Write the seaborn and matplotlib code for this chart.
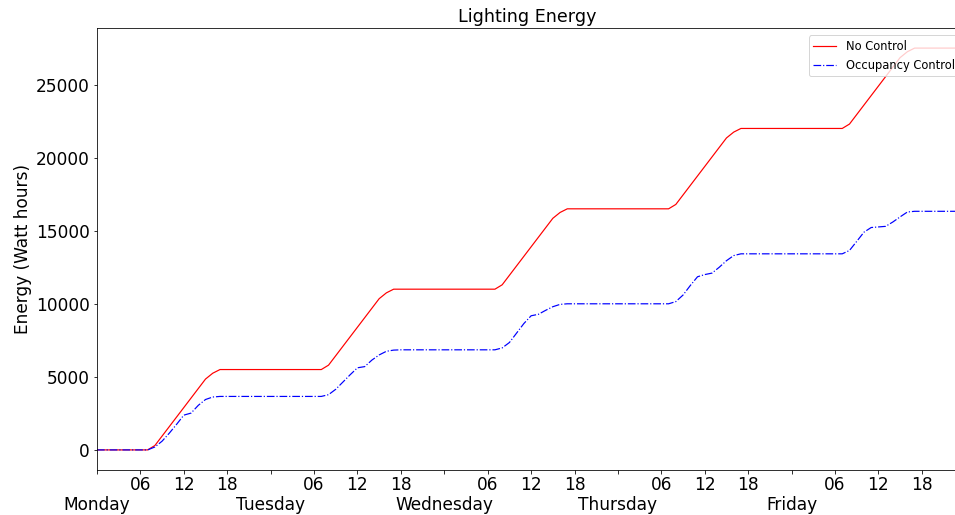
import matplotlib
matplotlib.use("Agg")
import matplotlib.pyplot as plt
import numpy as np
import pandas as pd
import seaborn as sns

# Hour of the week (Monday 00:00 = 0), hourly samples Monday..Friday
hours = list(range(120))

# Cumulative lighting energy, Wh, one row per day (24 hourly values each)
no_control_wh = [
    # Monday
    0, 0, 0, 0, 0, 0, 0, 0, 300, 950, 1600, 2250,
    2900, 3550, 4200, 4850, 5250, 5500, 5500, 5500, 5500, 5500, 5500, 5500,
    # Tuesday
    5500, 5500, 5500, 5500, 5500, 5500, 5500, 5500, 5800, 6450, 7100, 7750,
    8400, 9050, 9700, 10350, 10750, 11000, 11000, 11000, 11000, 11000, 11000, 11000,
    # Wednesday
    11000, 11000, 11000, 11000, 11000, 11000, 11000, 11000, 11300, 11950, 12600, 13250,
    13900, 14550, 15200, 15850, 16250, 16500, 16500, 16500, 16500, 16500, 16500, 16500,
    # Thursday
    16500, 16500, 16500, 16500, 16500, 16500, 16500, 16500, 16800, 17450, 18100, 18750,
    19400, 20050, 20700, 21350, 21750, 22000, 22000, 22000, 22000, 22000, 22000, 22000,
    # Friday
    22000, 22000, 22000, 22000, 22000, 22000, 22000, 22000, 22300, 22950, 23600, 24250,
    24900, 25550, 26200, 26850, 27250, 27500, 27500, 27500, 27500, 27500, 27500, 27500,
]

occupancy_wh = [
    # Monday
    0, 0, 0, 0, 0, 0, 0, 0, 200, 600, 1150, 1750,
    2380, 2520, 3050, 3450, 3620, 3660, 3660, 3660, 3660, 3660, 3660, 3660,
    # Tuesday
    3660, 3660, 3660, 3660, 3660, 3660, 3660, 3660, 3780, 4150, 4650, 5150,
    5620, 5700, 6150, 6500, 6750, 6830, 6850, 6850, 6850, 6850, 6850, 6850,
    # Wednesday
    6850, 6850, 6850, 6850, 6850, 6850, 6850, 6850, 6980, 7350, 8000, 8650,
    9180, 9280, 9550, 9800, 9960, 10000, 10000, 10000, 10000, 10000, 10000, 10000,
    # Thursday
    10000, 10000, 10000, 10000, 10000, 10000, 10000, 10000, 10150, 10600, 11250, 11850,
    12000, 12100, 12500, 12950, 13300, 13420, 13420, 13420, 13420, 13420, 13420, 13420,
    # Friday
    13420, 13420, 13420, 13420, 13420, 13420, 13420, 13420, 13650, 14270, 14900, 15220,
    15260, 15300, 15600, 15950, 16280, 16330, 16330, 16330, 16330, 16330, 16330, 16330,
]

series_names = ["No Control", "Occupancy Control"]
day_names = ["Monday", "Tuesday", "Wednesday", "Thursday", "Friday"]
hour_labels = ["06", "12", "18"]
y_ticks = [0, 5000, 10000, 15000, 20000, 25000]

df = pd.concat([
    pd.DataFrame({"hour": hours, "energy": no_control_wh, "series": series_names[0]}),
    pd.DataFrame({"hour": hours, "energy": occupancy_wh, "series": series_names[1]}),
], ignore_index=True)

W, H, DPI = 955, 515, 72
FS = 17
fig = plt.figure(figsize=(W / DPI, H / DPI), dpi=DPI)
ax_w = 958 - 97
ax = fig.add_axes([97 / W, 1 - 470 / H, ax_w / W, (470 - 28) / H])

sns.lineplot(
    data=df, x="hour", y="energy", hue="series", style="series",
    palette={series_names[0]: "red", series_names[1]: "blue"},
    dashes={series_names[0]: "", series_names[1]: (6.4, 1.6, 1, 1.6)},
    linewidth=1.2, ax=ax,
)

# x axis: day names at midnight on a lower row, hours of day as minor labels
ax.set_xlim(hours[0], hours[-1])
major = [24 * d for d in range(len(day_names))]
minor = [24 * d + h for d in range(len(day_names)) for h in (6, 12, 18)]
ax.set_xticks(major, day_names)
ax.set_xticks(minor, hour_labels * len(day_names), minor=True)
ax.tick_params(axis="x", which="both", length=3.5, width=0.8, labelsize=FS)
ax.tick_params(axis="x", which="major", pad=22.5)
ax.tick_params(axis="x", which="minor", pad=3.0)
ax.set_xlabel("")

span = max(no_control_wh) - min(no_control_wh)
ax.set_ylim(-0.05 * span, max(no_control_wh) + 0.05 * span)
ax.set_yticks(y_ticks)
ax.tick_params(axis="y", labelsize=FS, length=3.5)
ax.set_ylabel("Energy (Watt hours)", fontsize=FS)
ax.set_title("Lighting Energy", fontsize=17.5)

handles, labels = ax.get_legend_handles_labels()
ax.legend(handles, labels, loc="upper right", fontsize=11.5,
          bbox_to_anchor=(1 + 7 / ax_w, 1 - 1.5 / 442))

fig.savefig("out.png", dpi=DPI)
